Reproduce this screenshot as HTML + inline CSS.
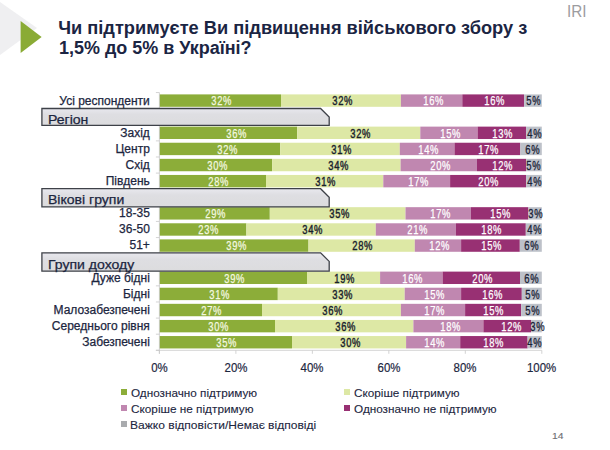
<!DOCTYPE html>
<html><head><meta charset="utf-8">
<style>
html,body{margin:0;padding:0;}
body{width:610px;height:450px;position:relative;overflow:hidden;background:#fff;font-family:"Liberation Sans",sans-serif;}
.abs{position:absolute;}
.t{position:absolute;white-space:nowrap;line-height:1;}
.lbl{position:absolute;white-space:nowrap;line-height:1;font-size:12px;color:#1c2640;text-align:right;-webkit-text-stroke:0.25px #1c2640;}
.pct{position:absolute;white-space:nowrap;line-height:1;font-size:12.3px;text-align:center;}
.seg{position:absolute;}
.leg{position:absolute;white-space:nowrap;line-height:1;font-size:11px;color:#1c2640;-webkit-text-stroke:0.1px #1c2640;transform:scaleX(1.08);transform-origin:0 0;}
.sq{position:absolute;width:6px;height:6px;}
</style></head><body>

<svg class="abs" style="left:0;top:0" width="610" height="450" viewBox="0 0 610 450">
<defs><linearGradient id="bx" x1="0" y1="0" x2="0" y2="1"><stop offset="0" stop-color="#e8e8ee"/><stop offset="0.35" stop-color="#dedee2"/><stop offset="1" stop-color="#dcdcde"/></linearGradient></defs>
<polygon points="0,2 37,28 0,55" fill="#efeff1"/>
<polygon points="20.6,21 41.6,37 20.6,52.9" fill="#8aab35"/>
<rect x="159.40" y="94.40" width="121.60" height="12.4" fill="#8cad39"/>
<rect x="281.00" y="94.40" width="119.90" height="12.4" fill="#dde8a5"/>
<rect x="400.90" y="94.40" width="61.40" height="12.4" fill="#c087b0"/>
<rect x="462.30" y="94.40" width="61.80" height="12.4" fill="#983073"/>
<rect x="524.10" y="94.40" width="17.70" height="12.4" fill="#bdc1c9"/>
<rect x="159.40" y="126.62" width="137.80" height="12.4" fill="#8cad39"/>
<rect x="297.20" y="126.62" width="123.10" height="12.4" fill="#dde8a5"/>
<rect x="420.30" y="126.62" width="57.30" height="12.4" fill="#c087b0"/>
<rect x="477.60" y="126.62" width="48.50" height="12.4" fill="#983073"/>
<rect x="526.10" y="126.62" width="15.70" height="12.4" fill="#bdc1c9"/>
<rect x="159.40" y="142.73" width="120.80" height="12.4" fill="#8cad39"/>
<rect x="280.20" y="142.73" width="119.60" height="12.4" fill="#dde8a5"/>
<rect x="399.80" y="142.73" width="54.70" height="12.4" fill="#c087b0"/>
<rect x="454.50" y="142.73" width="65.80" height="12.4" fill="#983073"/>
<rect x="520.30" y="142.73" width="21.50" height="12.4" fill="#bdc1c9"/>
<rect x="159.40" y="158.84" width="112.70" height="12.4" fill="#8cad39"/>
<rect x="272.10" y="158.84" width="128.50" height="12.4" fill="#dde8a5"/>
<rect x="400.60" y="158.84" width="76.40" height="12.4" fill="#c087b0"/>
<rect x="477.00" y="158.84" width="49.10" height="12.4" fill="#983073"/>
<rect x="526.10" y="158.84" width="15.70" height="12.4" fill="#bdc1c9"/>
<rect x="159.40" y="174.95" width="106.60" height="12.4" fill="#8cad39"/>
<rect x="266.00" y="174.95" width="117.30" height="12.4" fill="#dde8a5"/>
<rect x="383.30" y="174.95" width="66.80" height="12.4" fill="#c087b0"/>
<rect x="450.10" y="174.95" width="76.00" height="12.4" fill="#983073"/>
<rect x="526.10" y="174.95" width="15.70" height="12.4" fill="#bdc1c9"/>
<rect x="159.40" y="207.17" width="110.40" height="12.4" fill="#8cad39"/>
<rect x="269.80" y="207.17" width="135.70" height="12.4" fill="#dde8a5"/>
<rect x="405.50" y="207.17" width="65.40" height="12.4" fill="#c087b0"/>
<rect x="470.90" y="207.17" width="57.50" height="12.4" fill="#983073"/>
<rect x="528.40" y="207.17" width="13.40" height="12.4" fill="#bdc1c9"/>
<rect x="159.40" y="223.28" width="87.00" height="12.4" fill="#8cad39"/>
<rect x="246.40" y="223.28" width="129.40" height="12.4" fill="#dde8a5"/>
<rect x="375.80" y="223.28" width="80.10" height="12.4" fill="#c087b0"/>
<rect x="455.90" y="223.28" width="69.90" height="12.4" fill="#983073"/>
<rect x="525.80" y="223.28" width="16.00" height="12.4" fill="#bdc1c9"/>
<rect x="159.40" y="239.39" width="149.10" height="12.4" fill="#8cad39"/>
<rect x="308.50" y="239.39" width="106.30" height="12.4" fill="#dde8a5"/>
<rect x="414.80" y="239.39" width="46.30" height="12.4" fill="#c087b0"/>
<rect x="461.10" y="239.39" width="58.70" height="12.4" fill="#983073"/>
<rect x="519.80" y="239.39" width="22.00" height="12.4" fill="#bdc1c9"/>
<rect x="159.40" y="271.61" width="147.60" height="12.4" fill="#8cad39"/>
<rect x="307.00" y="271.61" width="73.10" height="12.4" fill="#dde8a5"/>
<rect x="380.10" y="271.61" width="62.50" height="12.4" fill="#c087b0"/>
<rect x="442.60" y="271.61" width="77.40" height="12.4" fill="#983073"/>
<rect x="520.00" y="271.61" width="21.80" height="12.4" fill="#bdc1c9"/>
<rect x="159.40" y="287.72" width="118.40" height="12.4" fill="#8cad39"/>
<rect x="277.80" y="287.72" width="126.90" height="12.4" fill="#dde8a5"/>
<rect x="404.70" y="287.72" width="56.40" height="12.4" fill="#c087b0"/>
<rect x="461.10" y="287.72" width="60.70" height="12.4" fill="#983073"/>
<rect x="521.80" y="287.72" width="20.00" height="12.4" fill="#bdc1c9"/>
<rect x="159.40" y="303.83" width="102.60" height="12.4" fill="#8cad39"/>
<rect x="262.00" y="303.83" width="138.90" height="12.4" fill="#dde8a5"/>
<rect x="400.90" y="303.83" width="64.20" height="12.4" fill="#c087b0"/>
<rect x="465.10" y="303.83" width="56.10" height="12.4" fill="#983073"/>
<rect x="521.20" y="303.83" width="20.60" height="12.4" fill="#bdc1c9"/>
<rect x="159.40" y="319.94" width="115.60" height="12.4" fill="#8cad39"/>
<rect x="275.00" y="319.94" width="138.40" height="12.4" fill="#dde8a5"/>
<rect x="413.40" y="319.94" width="70.00" height="12.4" fill="#c087b0"/>
<rect x="483.40" y="319.94" width="47.60" height="12.4" fill="#983073"/>
<rect x="531.00" y="319.94" width="10.80" height="12.4" fill="#bdc1c9"/>
<rect x="159.40" y="336.05" width="132.60" height="12.4" fill="#8cad39"/>
<rect x="292.00" y="336.05" width="114.10" height="12.4" fill="#dde8a5"/>
<rect x="406.10" y="336.05" width="54.10" height="12.4" fill="#c087b0"/>
<rect x="460.20" y="336.05" width="67.40" height="12.4" fill="#983073"/>
<rect x="527.60" y="336.05" width="14.20" height="12.4" fill="#bdc1c9"/>
<line x1="159.4" y1="92.55000000000001" x2="159.4" y2="353.81" stroke="#c8c8c8" stroke-width="0.8"/>
<line x1="155.9" y1="350.31" x2="541.8" y2="350.31" stroke="#c8c8c8" stroke-width="0.8"/>
<line x1="155.9" y1="92.55" x2="159.4" y2="92.55" stroke="#c8c8c8" stroke-width="0.8"/>
<line x1="155.9" y1="108.66" x2="159.4" y2="108.66" stroke="#c8c8c8" stroke-width="0.8"/>
<line x1="155.9" y1="124.77" x2="159.4" y2="124.77" stroke="#c8c8c8" stroke-width="0.8"/>
<line x1="155.9" y1="140.88" x2="159.4" y2="140.88" stroke="#c8c8c8" stroke-width="0.8"/>
<line x1="155.9" y1="156.99" x2="159.4" y2="156.99" stroke="#c8c8c8" stroke-width="0.8"/>
<line x1="155.9" y1="173.10" x2="159.4" y2="173.10" stroke="#c8c8c8" stroke-width="0.8"/>
<line x1="155.9" y1="189.21" x2="159.4" y2="189.21" stroke="#c8c8c8" stroke-width="0.8"/>
<line x1="155.9" y1="205.32" x2="159.4" y2="205.32" stroke="#c8c8c8" stroke-width="0.8"/>
<line x1="155.9" y1="221.43" x2="159.4" y2="221.43" stroke="#c8c8c8" stroke-width="0.8"/>
<line x1="155.9" y1="237.54" x2="159.4" y2="237.54" stroke="#c8c8c8" stroke-width="0.8"/>
<line x1="155.9" y1="253.65" x2="159.4" y2="253.65" stroke="#c8c8c8" stroke-width="0.8"/>
<line x1="155.9" y1="269.76" x2="159.4" y2="269.76" stroke="#c8c8c8" stroke-width="0.8"/>
<line x1="155.9" y1="285.87" x2="159.4" y2="285.87" stroke="#c8c8c8" stroke-width="0.8"/>
<line x1="155.9" y1="301.98" x2="159.4" y2="301.98" stroke="#c8c8c8" stroke-width="0.8"/>
<line x1="155.9" y1="318.09" x2="159.4" y2="318.09" stroke="#c8c8c8" stroke-width="0.8"/>
<line x1="155.9" y1="334.20" x2="159.4" y2="334.20" stroke="#c8c8c8" stroke-width="0.8"/>
<line x1="155.9" y1="350.31" x2="159.4" y2="350.31" stroke="#c8c8c8" stroke-width="0.8"/>
<line x1="159.40" y1="350.31" x2="159.40" y2="353.81" stroke="#c8c8c8" stroke-width="0.8"/>
<line x1="235.88" y1="350.31" x2="235.88" y2="353.81" stroke="#c8c8c8" stroke-width="0.8"/>
<line x1="312.36" y1="350.31" x2="312.36" y2="353.81" stroke="#c8c8c8" stroke-width="0.8"/>
<line x1="388.84" y1="350.31" x2="388.84" y2="353.81" stroke="#c8c8c8" stroke-width="0.8"/>
<line x1="465.32" y1="350.31" x2="465.32" y2="353.81" stroke="#c8c8c8" stroke-width="0.8"/>
<line x1="541.80" y1="350.31" x2="541.80" y2="353.81" stroke="#c8c8c8" stroke-width="0.8"/>
<polygon points="41.9,108.5 320.59999999999997,108.5 329.2,117.1 329.2,125.3 41.9,125.3" fill="url(#bx)" stroke="#3e4148" stroke-width="1.3"/>
<polygon points="41.9,188.7 320.59999999999997,188.7 329.2,197.29999999999998 329.2,206.9 41.9,206.9" fill="url(#bx)" stroke="#3e4148" stroke-width="1.3"/>
<polygon points="41.9,252.8 320.59999999999997,252.8 329.2,261.40000000000003 329.2,271.2 41.9,271.2" fill="url(#bx)" stroke="#3e4148" stroke-width="1.3"/>
</svg>
<div class="t" style="left:58.2px;top:18.1px;font-size:18.24px;font-weight:bold;color:#1b2543;line-height:20px;">Чи підтримуєте Ви підвищення військового збору з</div>
<div class="t" style="left:58.7px;top:38.1px;font-size:18.24px;font-weight:bold;color:#1b2543;line-height:20px;transform:scaleX(0.985);transform-origin:0 0;">1,5% до 5% в Україні?</div>
<div class="t" style="left:566.8px;top:3.3px;font-size:17.3px;color:#9c9ca0;transform:scaleX(0.885);transform-origin:0 0;">IRI</div>
<div class="lbl" style="right:460.2px;top:94.50px;">Усі респонденти</div>
<div class="pct" style="left:200.90px;width:40px;top:95.30px;color:#f4f8e0"><span style="display:inline-block;transform:scaleX(0.765);letter-spacing:0.9px;margin-right:-0.9px;-webkit-text-stroke:0.25px #f4f8e0">32%</span></div>
<div class="pct" style="left:322.20px;width:40px;top:95.30px;color:#18202c"><span style="display:inline-block;transform:scaleX(0.765);letter-spacing:0.9px;margin-right:-0.9px;-webkit-text-stroke:0.4px #18202c">32%</span></div>
<div class="pct" style="left:413.50px;width:40px;top:95.30px;color:#ffffff"><span style="display:inline-block;transform:scaleX(0.765);letter-spacing:0.9px;margin-right:-0.9px;-webkit-text-stroke:0.25px #ffffff">16%</span></div>
<div class="pct" style="left:474.30px;width:40px;top:95.30px;color:#ffffff"><span style="display:inline-block;transform:scaleX(0.765);letter-spacing:0.9px;margin-right:-0.9px;-webkit-text-stroke:0.25px #ffffff">16%</span></div>
<div class="pct" style="left:513.10px;width:40px;top:95.30px;color:#1a2236"><span style="display:inline-block;transform:scaleX(0.765);letter-spacing:0.9px;margin-right:-0.9px;-webkit-text-stroke:0.3px #1a2236">5%</span></div>
<div class="lbl" style="right:460.2px;top:126.72px;">Захід</div>
<div class="pct" style="left:216.10px;width:40px;top:127.52px;color:#f4f8e0"><span style="display:inline-block;transform:scaleX(0.765);letter-spacing:0.9px;margin-right:-0.9px;-webkit-text-stroke:0.25px #f4f8e0">36%</span></div>
<div class="pct" style="left:340.00px;width:40px;top:127.52px;color:#18202c"><span style="display:inline-block;transform:scaleX(0.765);letter-spacing:0.9px;margin-right:-0.9px;-webkit-text-stroke:0.4px #18202c">32%</span></div>
<div class="pct" style="left:430.20px;width:40px;top:127.52px;color:#ffffff"><span style="display:inline-block;transform:scaleX(0.765);letter-spacing:0.9px;margin-right:-0.9px;-webkit-text-stroke:0.25px #ffffff">15%</span></div>
<div class="pct" style="left:482.50px;width:40px;top:127.52px;color:#ffffff"><span style="display:inline-block;transform:scaleX(0.765);letter-spacing:0.9px;margin-right:-0.9px;-webkit-text-stroke:0.25px #ffffff">13%</span></div>
<div class="pct" style="left:514.30px;width:40px;top:127.52px;color:#1a2236"><span style="display:inline-block;transform:scaleX(0.765);letter-spacing:0.9px;margin-right:-0.9px;-webkit-text-stroke:0.3px #1a2236">4%</span></div>
<div class="lbl" style="right:460.2px;top:142.83px;">Центр</div>
<div class="pct" style="left:207.50px;width:40px;top:143.63px;color:#f4f8e0"><span style="display:inline-block;transform:scaleX(0.765);letter-spacing:0.9px;margin-right:-0.9px;-webkit-text-stroke:0.25px #f4f8e0">32%</span></div>
<div class="pct" style="left:321.20px;width:40px;top:143.63px;color:#18202c"><span style="display:inline-block;transform:scaleX(0.765);letter-spacing:0.9px;margin-right:-0.9px;-webkit-text-stroke:0.4px #18202c">31%</span></div>
<div class="pct" style="left:408.50px;width:40px;top:143.63px;color:#ffffff"><span style="display:inline-block;transform:scaleX(0.765);letter-spacing:0.9px;margin-right:-0.9px;-webkit-text-stroke:0.25px #ffffff">14%</span></div>
<div class="pct" style="left:468.60px;width:40px;top:143.63px;color:#ffffff"><span style="display:inline-block;transform:scaleX(0.765);letter-spacing:0.9px;margin-right:-0.9px;-webkit-text-stroke:0.25px #ffffff">17%</span></div>
<div class="pct" style="left:512.20px;width:40px;top:143.63px;color:#1a2236"><span style="display:inline-block;transform:scaleX(0.765);letter-spacing:0.9px;margin-right:-0.9px;-webkit-text-stroke:0.3px #1a2236">6%</span></div>
<div class="lbl" style="right:460.2px;top:158.94px;">Схід</div>
<div class="pct" style="left:197.00px;width:40px;top:159.74px;color:#f4f8e0"><span style="display:inline-block;transform:scaleX(0.765);letter-spacing:0.9px;margin-right:-0.9px;-webkit-text-stroke:0.25px #f4f8e0">30%</span></div>
<div class="pct" style="left:318.00px;width:40px;top:159.74px;color:#18202c"><span style="display:inline-block;transform:scaleX(0.765);letter-spacing:0.9px;margin-right:-0.9px;-webkit-text-stroke:0.4px #18202c">34%</span></div>
<div class="pct" style="left:420.20px;width:40px;top:159.74px;color:#ffffff"><span style="display:inline-block;transform:scaleX(0.765);letter-spacing:0.9px;margin-right:-0.9px;-webkit-text-stroke:0.25px #ffffff">20%</span></div>
<div class="pct" style="left:482.00px;width:40px;top:159.74px;color:#ffffff"><span style="display:inline-block;transform:scaleX(0.765);letter-spacing:0.9px;margin-right:-0.9px;-webkit-text-stroke:0.25px #ffffff">12%</span></div>
<div class="pct" style="left:513.70px;width:40px;top:159.74px;color:#1a2236"><span style="display:inline-block;transform:scaleX(0.765);letter-spacing:0.9px;margin-right:-0.9px;-webkit-text-stroke:0.3px #1a2236">5%</span></div>
<div class="lbl" style="right:460.2px;top:175.05px;">Південь</div>
<div class="pct" style="left:198.50px;width:40px;top:175.85px;color:#f4f8e0"><span style="display:inline-block;transform:scaleX(0.765);letter-spacing:0.9px;margin-right:-0.9px;-webkit-text-stroke:0.25px #f4f8e0">28%</span></div>
<div class="pct" style="left:305.60px;width:40px;top:175.85px;color:#18202c"><span style="display:inline-block;transform:scaleX(0.765);letter-spacing:0.9px;margin-right:-0.9px;-webkit-text-stroke:0.4px #18202c">31%</span></div>
<div class="pct" style="left:397.80px;width:40px;top:175.85px;color:#ffffff"><span style="display:inline-block;transform:scaleX(0.765);letter-spacing:0.9px;margin-right:-0.9px;-webkit-text-stroke:0.25px #ffffff">17%</span></div>
<div class="pct" style="left:468.20px;width:40px;top:175.85px;color:#ffffff"><span style="display:inline-block;transform:scaleX(0.765);letter-spacing:0.9px;margin-right:-0.9px;-webkit-text-stroke:0.25px #ffffff">20%</span></div>
<div class="pct" style="left:514.30px;width:40px;top:175.85px;color:#1a2236"><span style="display:inline-block;transform:scaleX(0.765);letter-spacing:0.9px;margin-right:-0.9px;-webkit-text-stroke:0.3px #1a2236">4%</span></div>
<div class="lbl" style="right:460.2px;top:207.27px;">18-35</div>
<div class="pct" style="left:195.70px;width:40px;top:208.07px;color:#f4f8e0"><span style="display:inline-block;transform:scaleX(0.765);letter-spacing:0.9px;margin-right:-0.9px;-webkit-text-stroke:0.25px #f4f8e0">29%</span></div>
<div class="pct" style="left:319.00px;width:40px;top:208.07px;color:#18202c"><span style="display:inline-block;transform:scaleX(0.765);letter-spacing:0.9px;margin-right:-0.9px;-webkit-text-stroke:0.4px #18202c">35%</span></div>
<div class="pct" style="left:419.80px;width:40px;top:208.07px;color:#ffffff"><span style="display:inline-block;transform:scaleX(0.765);letter-spacing:0.9px;margin-right:-0.9px;-webkit-text-stroke:0.25px #ffffff">17%</span></div>
<div class="pct" style="left:480.60px;width:40px;top:208.07px;color:#ffffff"><span style="display:inline-block;transform:scaleX(0.765);letter-spacing:0.9px;margin-right:-0.9px;-webkit-text-stroke:0.25px #ffffff">15%</span></div>
<div class="pct" style="left:515.50px;width:40px;top:208.07px;color:#1a2236"><span style="display:inline-block;transform:scaleX(0.765);letter-spacing:0.9px;margin-right:-0.9px;-webkit-text-stroke:0.3px #1a2236">3%</span></div>
<div class="lbl" style="right:460.2px;top:223.38px;">36-50</div>
<div class="pct" style="left:188.60px;width:40px;top:224.18px;color:#f4f8e0"><span style="display:inline-block;transform:scaleX(0.765);letter-spacing:0.9px;margin-right:-0.9px;-webkit-text-stroke:0.25px #f4f8e0">23%</span></div>
<div class="pct" style="left:292.20px;width:40px;top:224.18px;color:#18202c"><span style="display:inline-block;transform:scaleX(0.765);letter-spacing:0.9px;margin-right:-0.9px;-webkit-text-stroke:0.4px #18202c">34%</span></div>
<div class="pct" style="left:396.80px;width:40px;top:224.18px;color:#ffffff"><span style="display:inline-block;transform:scaleX(0.765);letter-spacing:0.9px;margin-right:-0.9px;-webkit-text-stroke:0.25px #ffffff">21%</span></div>
<div class="pct" style="left:471.70px;width:40px;top:224.18px;color:#ffffff"><span style="display:inline-block;transform:scaleX(0.765);letter-spacing:0.9px;margin-right:-0.9px;-webkit-text-stroke:0.25px #ffffff">18%</span></div>
<div class="pct" style="left:514.50px;width:40px;top:224.18px;color:#1a2236"><span style="display:inline-block;transform:scaleX(0.765);letter-spacing:0.9px;margin-right:-0.9px;-webkit-text-stroke:0.3px #1a2236">4%</span></div>
<div class="lbl" style="right:460.2px;top:239.49px;">51+</div>
<div class="pct" style="left:216.60px;width:40px;top:240.29px;color:#f4f8e0"><span style="display:inline-block;transform:scaleX(0.765);letter-spacing:0.9px;margin-right:-0.9px;-webkit-text-stroke:0.25px #f4f8e0">39%</span></div>
<div class="pct" style="left:342.50px;width:40px;top:240.29px;color:#18202c"><span style="display:inline-block;transform:scaleX(0.765);letter-spacing:0.9px;margin-right:-0.9px;-webkit-text-stroke:0.4px #18202c">28%</span></div>
<div class="pct" style="left:419.00px;width:40px;top:240.29px;color:#ffffff"><span style="display:inline-block;transform:scaleX(0.765);letter-spacing:0.9px;margin-right:-0.9px;-webkit-text-stroke:0.25px #ffffff">12%</span></div>
<div class="pct" style="left:471.70px;width:40px;top:240.29px;color:#ffffff"><span style="display:inline-block;transform:scaleX(0.765);letter-spacing:0.9px;margin-right:-0.9px;-webkit-text-stroke:0.25px #ffffff">15%</span></div>
<div class="pct" style="left:511.50px;width:40px;top:240.29px;color:#1a2236"><span style="display:inline-block;transform:scaleX(0.765);letter-spacing:0.9px;margin-right:-0.9px;-webkit-text-stroke:0.3px #1a2236">6%</span></div>
<div class="lbl" style="right:460.2px;top:271.71px;">Дуже бідні</div>
<div class="pct" style="left:214.20px;width:40px;top:272.51px;color:#f4f8e0"><span style="display:inline-block;transform:scaleX(0.765);letter-spacing:0.9px;margin-right:-0.9px;-webkit-text-stroke:0.25px #f4f8e0">39%</span></div>
<div class="pct" style="left:324.60px;width:40px;top:272.51px;color:#18202c"><span style="display:inline-block;transform:scaleX(0.765);letter-spacing:0.9px;margin-right:-0.9px;-webkit-text-stroke:0.4px #18202c">19%</span></div>
<div class="pct" style="left:392.60px;width:40px;top:272.51px;color:#ffffff"><span style="display:inline-block;transform:scaleX(0.765);letter-spacing:0.9px;margin-right:-0.9px;-webkit-text-stroke:0.25px #ffffff">16%</span></div>
<div class="pct" style="left:462.30px;width:40px;top:272.51px;color:#ffffff"><span style="display:inline-block;transform:scaleX(0.765);letter-spacing:0.9px;margin-right:-0.9px;-webkit-text-stroke:0.25px #ffffff">20%</span></div>
<div class="pct" style="left:511.50px;width:40px;top:272.51px;color:#1a2236"><span style="display:inline-block;transform:scaleX(0.765);letter-spacing:0.9px;margin-right:-0.9px;-webkit-text-stroke:0.3px #1a2236">6%</span></div>
<div class="lbl" style="right:460.2px;top:287.82px;">Бідні</div>
<div class="pct" style="left:199.40px;width:40px;top:288.62px;color:#f4f8e0"><span style="display:inline-block;transform:scaleX(0.765);letter-spacing:0.9px;margin-right:-0.9px;-webkit-text-stroke:0.25px #f4f8e0">31%</span></div>
<div class="pct" style="left:322.20px;width:40px;top:288.62px;color:#18202c"><span style="display:inline-block;transform:scaleX(0.765);letter-spacing:0.9px;margin-right:-0.9px;-webkit-text-stroke:0.4px #18202c">33%</span></div>
<div class="pct" style="left:414.20px;width:40px;top:288.62px;color:#ffffff"><span style="display:inline-block;transform:scaleX(0.765);letter-spacing:0.9px;margin-right:-0.9px;-webkit-text-stroke:0.25px #ffffff">15%</span></div>
<div class="pct" style="left:472.60px;width:40px;top:288.62px;color:#ffffff"><span style="display:inline-block;transform:scaleX(0.765);letter-spacing:0.9px;margin-right:-0.9px;-webkit-text-stroke:0.25px #ffffff">16%</span></div>
<div class="pct" style="left:512.70px;width:40px;top:288.62px;color:#1a2236"><span style="display:inline-block;transform:scaleX(0.765);letter-spacing:0.9px;margin-right:-0.9px;-webkit-text-stroke:0.3px #1a2236">5%</span></div>
<div class="lbl" style="right:460.2px;top:303.93px;">Малозабезпечені</div>
<div class="pct" style="left:191.50px;width:40px;top:304.73px;color:#f4f8e0"><span style="display:inline-block;transform:scaleX(0.765);letter-spacing:0.9px;margin-right:-0.9px;-webkit-text-stroke:0.25px #f4f8e0">27%</span></div>
<div class="pct" style="left:312.60px;width:40px;top:304.73px;color:#18202c"><span style="display:inline-block;transform:scaleX(0.765);letter-spacing:0.9px;margin-right:-0.9px;-webkit-text-stroke:0.4px #18202c">36%</span></div>
<div class="pct" style="left:413.90px;width:40px;top:304.73px;color:#ffffff"><span style="display:inline-block;transform:scaleX(0.765);letter-spacing:0.9px;margin-right:-0.9px;-webkit-text-stroke:0.25px #ffffff">17%</span></div>
<div class="pct" style="left:473.20px;width:40px;top:304.73px;color:#ffffff"><span style="display:inline-block;transform:scaleX(0.765);letter-spacing:0.9px;margin-right:-0.9px;-webkit-text-stroke:0.25px #ffffff">15%</span></div>
<div class="pct" style="left:512.70px;width:40px;top:304.73px;color:#1a2236"><span style="display:inline-block;transform:scaleX(0.765);letter-spacing:0.9px;margin-right:-0.9px;-webkit-text-stroke:0.3px #1a2236">5%</span></div>
<div class="lbl" style="right:460.2px;top:320.04px;">Середнього рівня</div>
<div class="pct" style="left:198.30px;width:40px;top:320.84px;color:#f4f8e0"><span style="display:inline-block;transform:scaleX(0.765);letter-spacing:0.9px;margin-right:-0.9px;-webkit-text-stroke:0.25px #f4f8e0">30%</span></div>
<div class="pct" style="left:325.40px;width:40px;top:320.84px;color:#18202c"><span style="display:inline-block;transform:scaleX(0.765);letter-spacing:0.9px;margin-right:-0.9px;-webkit-text-stroke:0.4px #18202c">36%</span></div>
<div class="pct" style="left:430.00px;width:40px;top:320.84px;color:#ffffff"><span style="display:inline-block;transform:scaleX(0.765);letter-spacing:0.9px;margin-right:-0.9px;-webkit-text-stroke:0.25px #ffffff">18%</span></div>
<div class="pct" style="left:491.35px;width:40px;top:320.84px;color:#ffffff"><span style="display:inline-block;transform:scaleX(0.765);letter-spacing:0.9px;margin-right:-0.9px;-webkit-text-stroke:0.25px #ffffff">12%</span></div>
<div class="pct" style="left:517.45px;width:40px;top:320.84px;color:#1a2236"><span style="display:inline-block;transform:scaleX(0.765);letter-spacing:0.9px;margin-right:-0.9px;-webkit-text-stroke:0.3px #1a2236">3%</span></div>
<div class="lbl" style="right:460.2px;top:336.15px;">Забезпечені</div>
<div class="pct" style="left:206.30px;width:40px;top:336.95px;color:#f4f8e0"><span style="display:inline-block;transform:scaleX(0.765);letter-spacing:0.9px;margin-right:-0.9px;-webkit-text-stroke:0.25px #f4f8e0">35%</span></div>
<div class="pct" style="left:330.30px;width:40px;top:336.95px;color:#18202c"><span style="display:inline-block;transform:scaleX(0.765);letter-spacing:0.9px;margin-right:-0.9px;-webkit-text-stroke:0.4px #18202c">30%</span></div>
<div class="pct" style="left:413.90px;width:40px;top:336.95px;color:#ffffff"><span style="display:inline-block;transform:scaleX(0.765);letter-spacing:0.9px;margin-right:-0.9px;-webkit-text-stroke:0.25px #ffffff">14%</span></div>
<div class="pct" style="left:473.20px;width:40px;top:336.95px;color:#ffffff"><span style="display:inline-block;transform:scaleX(0.765);letter-spacing:0.9px;margin-right:-0.9px;-webkit-text-stroke:0.25px #ffffff">18%</span></div>
<div class="pct" style="left:514.80px;width:40px;top:336.95px;color:#1a2236"><span style="display:inline-block;transform:scaleX(0.765);letter-spacing:0.9px;margin-right:-0.9px;-webkit-text-stroke:0.3px #1a2236">4%</span></div>
<div class="t" style="left:48px;top:112.51px;font-size:13px;color:#1c2640;-webkit-text-stroke:0.25px #1c2640;transform:scaleX(1.08);transform-origin:0 0;">Регіон</div>
<div class="t" style="left:48px;top:193.06px;font-size:13px;color:#1c2640;-webkit-text-stroke:0.25px #1c2640;transform:scaleX(1.08);transform-origin:0 0;">Вікові групи</div>
<div class="t" style="left:48px;top:257.50px;font-size:13px;color:#1c2640;-webkit-text-stroke:0.25px #1c2640;transform:scaleX(1.08);transform-origin:0 0;">Групи доходу</div>
<div class="t" style="left:129.40px;width:60px;text-align:center;top:361.31px;font-size:13px;color:#1c2640;"><span style="display:inline-block;transform:scaleX(0.88);-webkit-text-stroke:0.2px #1c2640">0%</span></div>
<div class="t" style="left:205.88px;width:60px;text-align:center;top:361.31px;font-size:13px;color:#1c2640;"><span style="display:inline-block;transform:scaleX(0.88);-webkit-text-stroke:0.2px #1c2640">20%</span></div>
<div class="t" style="left:282.36px;width:60px;text-align:center;top:361.31px;font-size:13px;color:#1c2640;"><span style="display:inline-block;transform:scaleX(0.88);-webkit-text-stroke:0.2px #1c2640">40%</span></div>
<div class="t" style="left:358.84px;width:60px;text-align:center;top:361.31px;font-size:13px;color:#1c2640;"><span style="display:inline-block;transform:scaleX(0.88);-webkit-text-stroke:0.2px #1c2640">60%</span></div>
<div class="t" style="left:435.32px;width:60px;text-align:center;top:361.31px;font-size:13px;color:#1c2640;"><span style="display:inline-block;transform:scaleX(0.88);-webkit-text-stroke:0.2px #1c2640">80%</span></div>
<div class="t" style="left:511.80px;width:60px;text-align:center;top:361.31px;font-size:13px;color:#1c2640;"><span style="display:inline-block;transform:scaleX(0.88);-webkit-text-stroke:0.2px #1c2640">100%</span></div>
<div class="sq" style="left:120.9px;top:389.3px;background:#8cad39"></div>
<div class="leg" style="left:130.5px;top:387.90000000000003px;transform:scaleX(1.066)">Однозначно підтримую</div>
<div class="sq" style="left:343.9px;top:389.3px;background:#dde8a5"></div>
<div class="leg" style="left:353.5px;top:387.90000000000003px;transform:scaleX(1.066)">Скоріше підтримую</div>
<div class="sq" style="left:120.9px;top:405.2px;background:#c087b0"></div>
<div class="leg" style="left:130.5px;top:403.8px;transform:scaleX(1.071)">Скоріше не підтримую</div>
<div class="sq" style="left:343.9px;top:405.2px;background:#983073"></div>
<div class="leg" style="left:353.5px;top:403.8px;transform:scaleX(1.068)">Однозначно не підтримую</div>
<div class="sq" style="left:120.9px;top:421.2px;background:#a9abae"></div>
<div class="leg" style="left:129.5px;top:419.8px;transform:scaleX(1.095)">Важко відповісти/Немає відповіді</div>
<div class="t" style="left:552.4px;top:430.9px;font-size:9.6px;color:#6e6e72;-webkit-text-stroke:0.12px #6e6e72;transform:scaleX(1.08);transform-origin:0 0;">14</div>
</body></html>
